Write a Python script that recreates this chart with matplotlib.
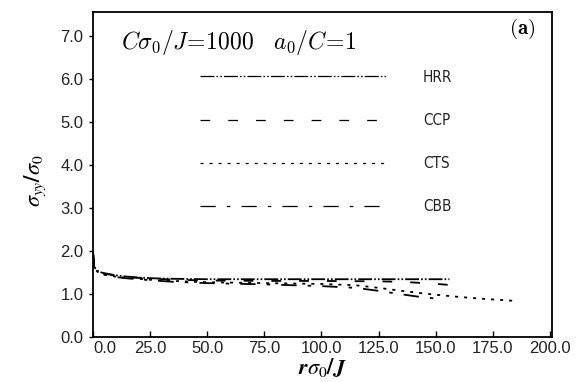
import numpy as np
import matplotlib
matplotlib.use("Agg")
import matplotlib.pyplot as plt
from matplotlib.lines import Line2D

plt.rcParams['mathtext.fontset'] = 'cm'
plt.rcParams['lines.scale_dashes'] = False

# normalized opening stress ahead of the crack tip, four solutions
x_hrr = [0, 0.5, 1, 2, 4, 7, 10, 15, 20, 27, 35, 50, 75, 100, 125, 156]
y_hrr = [1.98, 1.66, 1.59, 1.54, 1.49, 1.46, 1.43, 1.40, 1.38, 1.36, 1.35, 1.34, 1.34, 1.34, 1.34, 1.34]

x_ccp = [0, 0.5, 1, 2, 4, 7, 10, 15, 20, 27, 35, 50, 75, 100, 125, 135, 145, 153, 160]
y_ccp = [1.96, 1.65, 1.58, 1.53, 1.48, 1.45, 1.42, 1.39, 1.37, 1.35, 1.33, 1.31, 1.30, 1.30, 1.29, 1.28, 1.25, 1.22, 1.19]

x_cts = [0, 0.5, 1, 2, 4, 7, 10, 15, 20, 27, 35, 50, 75, 100, 115, 125, 135, 148, 160, 172, 184]
y_cts = [1.95, 1.64, 1.57, 1.51, 1.46, 1.43, 1.40, 1.37, 1.35, 1.32, 1.30, 1.27, 1.25, 1.23, 1.20, 1.14, 1.07, 0.99, 0.93, 0.88, 0.84]

x_cbb = [0, 0.5, 1, 2, 4, 7, 10, 15, 20, 27, 35, 50, 75, 100, 115, 125, 135, 143, 152]
y_cbb = [1.95, 1.64, 1.57, 1.51, 1.46, 1.42, 1.39, 1.36, 1.34, 1.31, 1.28, 1.25, 1.22, 1.18, 1.14, 1.07, 0.99, 0.93, 0.88]

names = ['HRR', 'CCP', 'CTS', 'CBB']
xticks = [0, 25, 50, 75, 100, 125, 150, 175, 200]
yticks = [0, 1, 2, 3, 4, 5, 6, 7]

fig = plt.figure(figsize=(5.85, 3.82), dpi=100)
ax = fig.add_axes([0.159, 0.118, 0.785, 0.851])

styles = [(0, (10, 1.5, 1.2, 1.5, 1.2, 1.5)),
          (0, (7, 13)),
          (0, (2.2, 4.3)),
          (0, (11, 8, 2.5, 8))]
series = [(x_hrr, y_hrr), (x_ccp, y_ccp), (x_cts, y_cts), (x_cbb, y_cbb)]
for (xs, ys), ls in zip(series, styles):
    ax.plot(xs, ys, color='black', lw=1.3, linestyle=ls)

ax.set_xlim(0, 201)
ax.set_ylim(0, 7.55)
ax.set_xticks(xticks)
ax.set_xticklabels(['%.1f' % t for t in xticks])
ax.set_yticks(yticks)
ax.set_yticklabels(['%.1f' % t for t in yticks])
ax.get_xticklabels()[0].set_horizontalalignment('left')

for s in ax.spines.values():
    s.set_linewidth(1.3)
ax.tick_params(axis='x', direction='in', length=4, width=1, labelsize=12, pad=3)
ax.tick_params(axis='y', direction='out', length=3, width=1, labelsize=12, pad=4)
for lab in ax.get_xticklabels() + ax.get_yticklabels():
    lab.set_family('Liberation Sans')
    lab.set_color('#222222')

ax.set_xlabel(r'$\boldsymbol{r\sigma_0/J}$', fontsize=16, labelpad=0,
              math_fontfamily='stix')
ax.set_ylabel(r'$\boldsymbol{\sigma_{yy}/\sigma_0}$', fontsize=16,
              math_fontfamily='stix')
ax.yaxis.set_label_coords(-0.098, 0.48)

ax.text(0.06, 0.905, r'$C\sigma_{\mathbf{0}}/J\!=\!1000\quad a_{\mathbf{0}}/C\!=\!1$',
        transform=ax.transAxes, fontsize=17, va='center', ha='left')
ax.text(0.963, 0.985, r'$\mathbf{(a)}$', transform=ax.transAxes,
        fontsize=15, va='top', ha='right')

# legend handles drawn thinner than the curves
handles = [Line2D([], [], color='black', lw=0.9, linestyle=ls) for ls in styles]
leg = ax.legend(handles, names, loc='upper left', bbox_to_anchor=(0.233, 0.822),
                frameon=False, handlelength=12.2, handletextpad=2.4,
                labelspacing=1.85, borderpad=0, borderaxespad=0,
                prop={'family': 'DejaVu Sans', 'stretch': 'condensed', 'size': 11})
for t in leg.get_texts():
    t.set_color('#222222')

fig.savefig('out.png', dpi=100)
